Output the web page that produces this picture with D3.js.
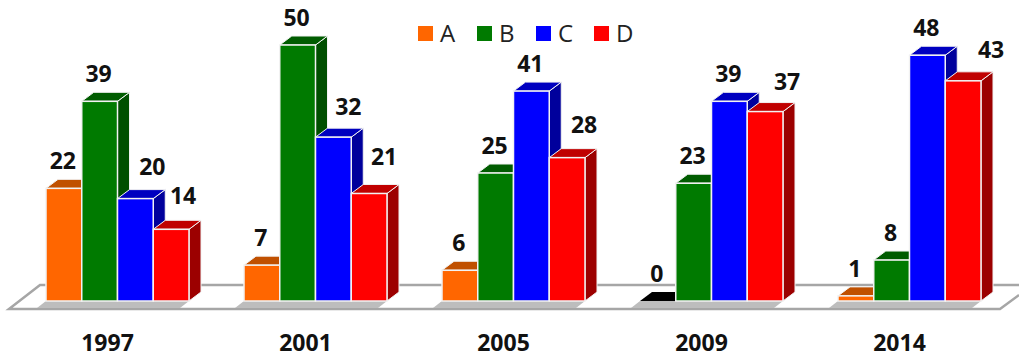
<!DOCTYPE html>
<html>
<head>
<meta charset="utf-8">
<script src="https://cdn.jsdelivr.net/npm/d3@7"></script>
<style>
  html, body { margin: 0; padding: 0; background: #fff; }
  svg { display: block; }
  text { font-family: "Open Sans", sans-serif; fill: #111; }
</style>
</head>
<body>
<svg id="chart" width="1019" height="360"></svg>
<script>
const years = ["1997", "2001", "2005", "2009", "2014"];
const seriesNames = ["A", "B", "C", "D"];
const valuesA = [22, 7, 6, 0, 1];
const valuesB = [39, 50, 25, 23, 8];
const valuesC = [20, 32, 41, 39, 48];
const valuesD = [14, 21, 28, 37, 43];

// Label shifts for values that sit beside a taller neighbour's block
const nudgeC = [[18, -5], [16, -3], [0, 0], [0, 0], [0, 0]];
const nudgeD = [[13, -6], [16, -9], [18, -6], [23, -3], [29, -4]];
const noNudge = years.map(() => [0, 0]);

const palette = {
  A: { front: "#ff6600", top: "#c05000", side: "#a04000" },
  B: { front: "#007a00", top: "#005c00", side: "#004f00" },
  C: { front: "#0000ff", top: "#0000c0", side: "#00009c" },
  D: { front: "#ff0000", top: "#c00000", side: "#9c0000" }
};

const svg = d3.select("#chart");
const depthX = 12, depthY = 9;

const y = d3.scaleLinear().domain([0, 50]).range([301, 45]);
const xGroup = d3.scaleBand().domain(years).range([46, 981]).paddingInner(55 / 198).paddingOuter(0);
const xBar = d3.scaleBand().domain(seriesNames).range([0, xGroup.bandwidth()]);

const series = [
  { name: "A", values: valuesA, nudge: noNudge },
  { name: "B", values: valuesB, nudge: noNudge },
  { name: "C", values: valuesC, nudge: nudgeC },
  { name: "D", values: valuesD, nudge: nudgeD }
];

const poly = pts => pts.map(p => p.join(",")).join(" ");

// Floor: an open parallelogram behind the bars
const floorFront = y(0) + 8, floorBack = y(0) - 16;
svg.append("path")
  .attr("d", `M1019,${floorBack} L40,${floorBack} L9,${floorFront} L1000,${floorFront} L1019,${floorFront - 14}`)
  .attr("fill", "#fff")
  .attr("stroke", "#a6a6a6")
  .attr("stroke-width", 2.5);

// Soft grey footprint under each cluster
svg.append("g").selectAll("polygon").data(years).join("polygon")
  .attr("fill", "#bdbdbd")
  .attr("points", d => {
    const x0 = xGroup(d), x1 = x0 + xGroup.bandwidth(), t = y(0), b = t + 7;
    return poly([[x0, t], [x1, t], [x1 - 9, b], [x0 - 9, b]]);
  });

// Clusters, painted left to right so each block hides its neighbour's side
const groups = svg.append("g").selectAll("g").data(years).join("g");
groups.each(function (year, i) {
  const g = d3.select(this);
  series.forEach(s => {
    const v = s.values[i];
    const x0 = xGroup(year) + xBar(s.name);
    const x1 = x0 + xBar.bandwidth();
    const top = y(v), base = y(0);
    const colors = palette[s.name];
    const zero = v === 0;
    const edge = zero ? "none" : "#f2f2f2";

    if (!zero) {
      g.append("polygon")
        .attr("points", poly([[x1, top], [x1 + depthX, top - depthY], [x1 + depthX, base - depthY], [x1, base]]))
        .attr("fill", colors.side).attr("stroke", edge).attr("stroke-width", 1);
    }
    g.append("polygon")
      .attr("points", poly([[x0, top], [x0 + depthX, top - depthY], [x1 + depthX, top - depthY], [x1, top]]))
      .attr("fill", zero ? "#000" : colors.top).attr("stroke", edge).attr("stroke-width", 1);
    if (!zero) {
      g.append("rect")
        .attr("x", x0).attr("y", top)
        .attr("width", x1 - x0).attr("height", base - top)
        .attr("fill", colors.front).attr("stroke", edge).attr("stroke-width", 1.5);
    }
  });
});

// Value labels above the blocks
const labels = svg.append("g");
series.forEach(s => {
  labels.selectAll(null).data(s.values).join("text")
    .attr("x", (d, i) => xGroup(years[i]) + xBar(s.name) + xBar.bandwidth() / 2 + s.nudge[i][0] - 1)
    .attr("y", (d, i) => y(d) - 19 + s.nudge[i][1])
    .attr("text-anchor", "middle")
    .attr("font-size", 23)
    .attr("font-weight", 700)
    .text(d => d);
});

// Year labels along the bottom
const axis = d3.axisBottom(xGroup).tickSize(0).tickPadding(0);
const axisG = svg.append("g").attr("transform", "translate(-10,335)").call(axis);
axisG.select(".domain").remove();
axisG.selectAll("text")
  .attr("font-size", 23)
  .attr("font-weight", 700)
  .style("font-family", '"Open Sans", sans-serif')
  .style("fill", "#111");

// Legend
const legendX = d3.scaleOrdinal().domain(seriesNames).range([418, 477, 536, 594]);
const legend = svg.append("g").selectAll("g").data(seriesNames).join("g")
  .attr("transform", d => `translate(${legendX(d)},26)`);
legend.append("rect")
  .attr("width", 15).attr("height", 15)
  .attr("fill", d => palette[d].front);
legend.append("text")
  .attr("x", 22).attr("y", 16)
  .attr("font-size", 24)
  .style("fill", "#222")
  .text(d => d);
</script>
</body>
</html>
